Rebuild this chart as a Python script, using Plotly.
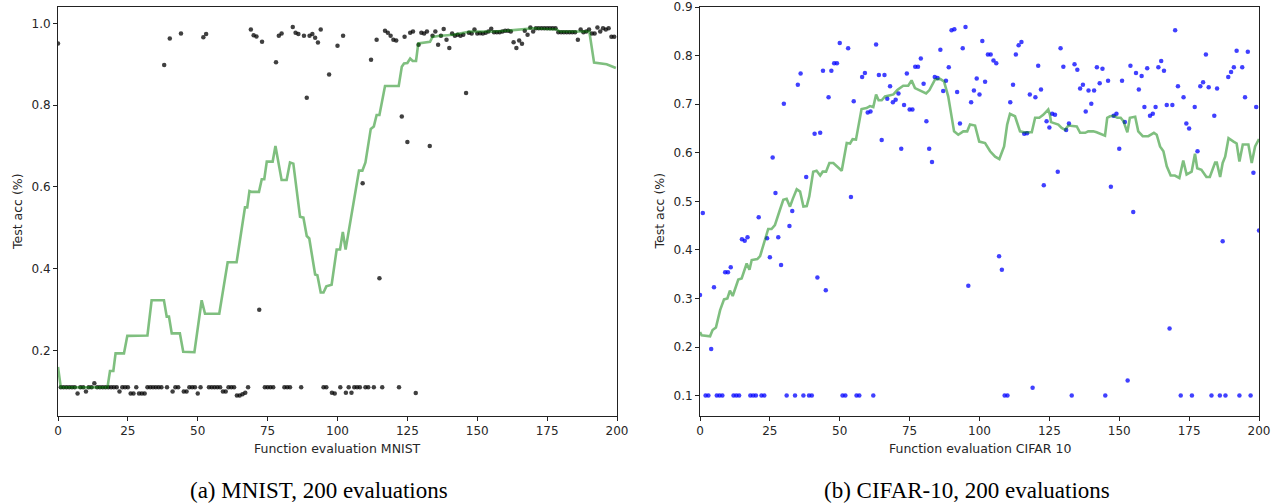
import plotly.graph_objects as go

# ---------------- MNIST data ----------------
mnist_acc = [
    0.951, 0.11, 0.11, 0.11, 0.11, 0.11, 0.11, 0.095, 0.11, 0.11,   # 0-9
    0.10, 0.11, 0.11, 0.12, 0.11, 0.11, 0.11, 0.11, 0.11, 0.11,     # 10-19
    0.11, 0.11, 0.10, 0.11, 0.11, 0.11, 0.095, 0.095, 0.11, 0.095,  # 20-29
    0.095, 0.095, 0.11, 0.11, 0.11, 0.11, 0.11, 0.11, 0.898, 0.11,  # 30-39
    0.963, 0.10, 0.11, 0.11, 0.975, 0.10, 0.10, 0.11, 0.11, 0.11,   # 40-49
    0.095, 0.11, 0.966, 0.974, 0.11, 0.11, 0.11, 0.11, 0.11, 0.10,  # 50-59
    0.10, 0.11, 0.11, 0.11, 0.09, 0.09, 0.093, 0.097, 0.11, 0.985,  # 60-69
    0.971, 0.968, 0.30, 0.955, 0.11, 0.11, 0.11, 0.11, 0.905, 0.97, # 70-79
    0.975, 0.11, 0.11, 0.11, 0.991, 0.977, 0.974, 0.11, 0.97, 0.818, # 80-89
    0.97, 0.974, 0.965, 0.953, 0.985, 0.11, 0.11, 0.875, 0.097, 0.095, # 90-99
    0.945, 0.11, 0.97, 0.097, 0.11, 0.097, 0.11, 0.11, 0.11, 0.609, # 100-109
    0.11, 0.11, 0.911, 0.11, 0.96, 0.377, 0.11, 0.982, 0.977, 0.97, # 110-119
    0.96, 0.958, 0.11, 0.772, 0.967, 0.71, 0.977, 0.98, 0.096, 0.948, # 120-129
    0.977, 0.975, 0.98, 0.70, 0.97, 0.98, 0.948, 0.97, 0.986, 0.96,  # 130-139
    0.94, 0.975, 0.97, 0.972, 0.97, 0.972, 0.83, 0.977, 0.975, 0.985, # 140-149
    0.975, 0.976, 0.975, 0.977, 0.98, 0.987, 0.978, 0.978, 0.978, 0.98, # 150-159
    0.982, 0.982, 0.98, 0.954, 0.94, 0.958, 0.95, 0.982, 0.972, 0.99,  # 160-169
    0.98, 0.988, 0.988, 0.988, 0.988, 0.988, 0.988, 0.988, 0.988, 0.978, # 170-179
    0.978, 0.978, 0.978, 0.978, 0.978, 0.978, 0.96, 0.985, 0.978, 0.98,  # 180-189
    0.985, 0.975, 0.975, 0.99, 0.98, 0.988, 0.985, 0.988, 0.967, 0.967,  # 190-199
]
mnist_eval = list(range(len(mnist_acc)))

mnist_line_x = [0, 1, 17.7, 18.6, 19.8, 20.6, 23.6, 24.8, 32, 33.5,
                37.9, 38.9, 39.7, 40.7, 43.6, 44.8, 48.8, 51.4, 52.6, 57.7,
                60.7, 63.9, 66.9, 67.7, 68.5, 69.3, 71.9, 72.9, 73.8, 74.7,
                76.8, 77.8, 80, 81.8, 83, 84.2, 86.6, 87.8, 89, 89.9,
                92, 92.8, 94, 95, 96, 97.9, 99.7, 100.9, 101.9, 102.9,
                107.7, 108.9, 110, 111.9, 113, 114, 115, 117, 121.9, 123,
                123.8, 125, 126, 126.9, 128.1, 128.9, 133.1, 134, 136, 141.4,
                147.4, 155.8, 160.5, 165.3, 170, 178.4, 179.5, 189, 190.1, 191.8,
                196.3, 199.6]
mnist_line_y = [0.16, 0.11, 0.11, 0.15, 0.15, 0.193, 0.193, 0.236, 0.237, 0.323,
                0.323, 0.283, 0.283, 0.242, 0.242, 0.197, 0.196, 0.323, 0.29, 0.29,
                0.416, 0.416, 0.55, 0.55, 0.59, 0.588, 0.588, 0.619, 0.619, 0.662,
                0.662, 0.70, 0.617, 0.617, 0.66, 0.657, 0.527, 0.525, 0.48, 0.474,
                0.386, 0.384, 0.342, 0.342, 0.357, 0.361, 0.447, 0.447, 0.49, 0.447,
                0.64, 0.64, 0.66, 0.742, 0.748, 0.776, 0.776, 0.847, 0.847, 0.894,
                0.902, 0.903, 0.914, 0.908, 0.908, 0.951, 0.955, 0.967, 0.969, 0.972,
                0.98, 0.98, 0.982, 0.985, 0.988, 0.985, 0.98, 0.98, 0.98, 0.904,
                0.90, 0.891]

# ---------------- CIFAR-10 data ----------------
cifar_acc = [
    0.307, 0.476, 0.1, 0.1, 0.196, 0.323, 0.1, 0.1, 0.1, 0.354,      # 0-9
    0.354, 0.364, 0.1, 0.1, 0.1, 0.422, 0.419, 0.426, 0.1, 0.1,      # 10-19
    0.1, 0.467, 0.1, 0.1, 0.424, 0.385, 0.59, 0.517, 0.426, 0.369,   # 20-29
    0.701, 0.1, 0.449, 0.48, 0.1, 0.74, 0.763, 0.1, 0.55, 0.1,       # 30-39
    0.1, 0.639, 0.343, 0.641, 0.769, 0.317, 0.714, 0.769, 0.784, 0.784, # 40-49
    0.826, 0.1, 0.1, 0.815, 0.509, 0.706, 0.1, 0.1, 0.756, 0.764,    # 50-59
    0.683, 0.685, 0.1, 0.823, 0.76, 0.626, 0.76, 0.711, 0.737, 0.704, # 60-69
    0.709, 0.722, 0.608, 0.698, 0.763, 0.689, 0.689, 0.777, 0.777, 0.794, # 70-79
    0.742, 0.665, 0.608, 0.581, 0.756, 0.754, 0.812, 0.727, 0.748, 0.776, # 80-89
    0.852, 0.854, 0.725, 0.66, 0.815, 0.859, 0.326, 0.704, 0.728, 0.753,  # 90-99
    0.72, 0.83, 0.746, 0.802, 0.802, 0.79, 0.784, 0.387, 0.359, 0.1,      # 100-109
    0.1, 0.704, 0.74, 0.802, 0.821, 0.828, 0.639, 0.64, 0.72, 0.116,      # 110-119
    0.714, 0.779, 0.73, 0.533, 0.665, 0.652, 0.68, 0.678, 0.561, 0.815,   # 120-129
    0.777, 0.647, 0.66, 0.1, 0.782, 0.771, 0.732, 0.74, 0.685, 0.728,     # 130-139
    0.701, 0.728, 0.776, 0.743, 0.773, 0.1, 0.748, 0.53, 0.676, 0.68,     # 140-149
    0.608, 0.748, 0.663, 0.131, 0.779, 0.478, 0.764, 0.73, 0.758, 0.694,  # 150-159
    0.774, 0.676, 0.68, 0.694, 0.776, 0.789, 0.769, 0.698, 0.238, 0.698,  # 160-169
    0.852, 0.737, 0.1, 0.714, 0.66, 0.65, 0.1, 0.694, 0.603, 0.737,       # 170-179
    0.745, 0.802, 0.735, 0.1, 0.676, 0.732, 0.1, 0.418, 0.1, 0.756,       # 180-189
    0.766, 0.776, 0.81, 0.1, 0.776, 0.714, 0.808, 0.1, 0.559, 0.694,      # 190-199
    0.44,                                                                  # 200
]
cifar_eval = list(range(len(cifar_acc)))

cifar_line_x = [0, 0.6, 3.6, 4.5, 5.7, 7.2, 8.6, 9.8, 10.7, 11.7,
                13.7, 14.9, 16.7, 17.7, 18.5, 20.5, 21.5, 22.6, 24.4, 25.6,
                26.8, 28.4, 29.8, 31, 32.2, 33.2, 34.6, 35.8, 37, 38.2,
                39.1, 40.5, 41.7, 43, 43.9, 45.1, 46.3, 47.7, 50.7, 52.5,
                53.7, 54.6, 55.8, 57.8, 59.6, 60.8, 62, 63, 63.9, 65,
                66.2, 67.7, 69.2, 70.6, 72.7, 74.5, 75.7, 76.9, 79.3, 80.9,
                82.1, 84.1, 85.9, 87.3, 88.8, 90, 90.9, 92.4, 94.2, 95.6,
                96.6, 98.4, 99.9, 102, 103.8, 105.6, 107.1, 108.8, 109.9, 110.9,
                112.7, 114.5, 115.9, 118.7, 119.9, 121.4, 122.8, 124.6, 125.2, 125.6,
                127, 128.2, 129.4, 130.6, 131.8, 133.6, 134.8, 136, 137.8, 138.9,
                140.7, 141.9, 143.7, 144.9, 145.7, 146.7, 148.1, 149.3, 150.5, 151.5,
                152.9, 153.8, 155.7, 156.8, 158.4, 160.4, 162.4, 163.4, 164.6, 165.8,
                167, 168.4, 169.9, 171.5, 172.9, 174.1, 175.9, 177.1, 177.9, 179.4,
                181.2, 182.4, 184.3, 184.9, 186.1, 187, 187.9, 189.1, 190.9, 192,
                193, 194.2, 196.2, 197.4, 198.6, 200]
cifar_line_y = [0.231, 0.224, 0.222, 0.235, 0.24, 0.276, 0.298, 0.30, 0.316, 0.305,
                0.339, 0.341, 0.372, 0.359, 0.379, 0.381, 0.387, 0.407, 0.443, 0.443,
                0.451, 0.479, 0.503, 0.505, 0.489, 0.505, 0.525, 0.52, 0.489, 0.49,
                0.51, 0.561, 0.563, 0.553, 0.561, 0.561, 0.579, 0.579, 0.563, 0.62,
                0.619, 0.628, 0.627, 0.69, 0.692, 0.696, 0.694, 0.72, 0.708, 0.708,
                0.716, 0.718, 0.72, 0.729, 0.738, 0.738, 0.749, 0.733, 0.727, 0.722,
                0.729, 0.751, 0.752, 0.747, 0.716, 0.675, 0.644, 0.637, 0.644, 0.644,
                0.658, 0.656, 0.623, 0.62, 0.603, 0.592, 0.587, 0.613, 0.658, 0.68,
                0.675, 0.644, 0.642, 0.642, 0.672, 0.672, 0.678, 0.689, 0.678, 0.663,
                0.661, 0.658, 0.651, 0.647, 0.656, 0.654, 0.654, 0.641, 0.641, 0.644,
                0.644, 0.642, 0.637, 0.635, 0.672, 0.675, 0.676, 0.672, 0.672, 0.665,
                0.642, 0.672, 0.674, 0.644, 0.634, 0.634, 0.641, 0.637, 0.613, 0.603,
                0.572, 0.553, 0.553, 0.548, 0.584, 0.555, 0.561, 0.598, 0.568, 0.565,
                0.55, 0.55, 0.58, 0.58, 0.55, 0.579, 0.592, 0.63, 0.623, 0.619,
                0.582, 0.617, 0.617, 0.579, 0.613, 0.628]

assert len(mnist_line_x) == len(mnist_line_y), (len(mnist_line_x), len(mnist_line_y))
assert len(cifar_line_x) == len(cifar_line_y), (len(cifar_line_x), len(cifar_line_y))

x_ticks = [0, 25, 50, 75, 100, 125, 150, 175, 200]
mnist_y_ticks = [0.2, 0.4, 0.6, 0.8, 1.0]
cifar_y_ticks = [0.1, 0.2, 0.3, 0.4, 0.5, 0.6, 0.7, 0.8, 0.9]

x_titles = ["Function evaluation MNIST", "Function evaluation CIFAR 10"]
y_title = "Test acc (%)"
captions = ["(a) MNIST, 200 evaluations", "(b) CIFAR-10, 200 evaluations"]

# ---------------- figure ----------------
W, H = 1278, 503
fig = go.Figure()

fig.add_trace(go.Scatter(x=mnist_eval, y=mnist_acc, mode="markers",
                         marker=dict(size=4.5, color="rgba(0,0,0,0.75)", line=dict(width=0)),
                         xaxis="x", yaxis="y", showlegend=False, hoverinfo="skip"))
fig.add_trace(go.Scatter(x=mnist_line_x, y=mnist_line_y, mode="lines",
                         line=dict(color="rgba(0,128,0,0.5)", width=2.6),
                         xaxis="x", yaxis="y", showlegend=False, hoverinfo="skip"))
fig.add_trace(go.Scatter(x=cifar_eval, y=cifar_acc, mode="markers",
                         marker=dict(size=4.5, color="rgba(0,0,255,0.75)", line=dict(width=0)),
                         xaxis="x2", yaxis="y2", showlegend=False, hoverinfo="skip"))
fig.add_trace(go.Scatter(x=cifar_line_x, y=cifar_line_y, mode="lines",
                         line=dict(color="rgba(0,128,0,0.5)", width=2.6),
                         xaxis="x2", yaxis="y2", showlegend=False, hoverinfo="skip"))

tick_font = dict(family="DejaVu Sans", size=12, color="#262626")
axis_common = dict(showline=True, mirror=True, linecolor="#222", linewidth=1,
                   ticks="outside", ticklen=4, tickwidth=0.8, tickcolor="#222",
                   showgrid=False, zeroline=False, tickfont=tick_font,
                   automargin=False)

def px_x(p):
    return p / W

def px_y(p):
    return 1 - p / H

fig.update_layout(
    width=W, height=H,
    margin=dict(l=0, r=0, t=0, b=0, pad=0),
    paper_bgcolor="white", plot_bgcolor="white",
    hovermode=False,
    xaxis=dict(domain=[px_x(58), px_x(617)], range=[0, 200], tickvals=x_ticks,
               anchor="y", **axis_common),
    yaxis=dict(domain=[px_y(416), px_y(7)], range=[0.04, 1.04], tickvals=mnist_y_ticks,
               tickformat=".1f", anchor="x", **axis_common),
    xaxis2=dict(domain=[px_x(700), px_x(1259)], range=[0, 200], tickvals=x_ticks,
                anchor="y2", **axis_common),
    yaxis2=dict(domain=[px_y(416), px_y(7)], range=[0.058, 0.9], tickvals=cifar_y_ticks,
                tickformat=".1f", anchor="x2", **axis_common),
)

label_font = dict(family="DejaVu Sans", size=12.5, color="#262626")
cap_font = dict(family="Liberation Serif", size=23, color="black")
annos = [
    dict(text=y_title, x=px_x(17.5), y=px_y(211.5), textangle=-90, font=label_font),
    dict(text=y_title, x=px_x(659), y=px_y(211.5), textangle=-90, font=label_font),
    dict(text=x_titles[0], x=px_x(337.5), y=px_y(448), font=label_font),
    dict(text=x_titles[1], x=px_x(979.5), y=px_y(448), font=label_font),
    dict(text=captions[0], x=px_x(319), y=px_y(490), font=cap_font),
    dict(text=captions[1], x=px_x(967), y=px_y(490), font=cap_font),
]
for a in annos:
    fig.add_annotation(xref="paper", yref="paper", showarrow=False,
                       xanchor="center", yanchor="middle", **a)

page_fix = ("document.documentElement.style.margin='0';"
            "document.documentElement.style.overflow='hidden';"
            "document.body.style.margin='0';"
            "document.body.style.padding='0';"
            "document.body.style.overflow='hidden';")

fig.write_html("out.html", post_script=page_fix,
               config={"displayModeBar": False})
